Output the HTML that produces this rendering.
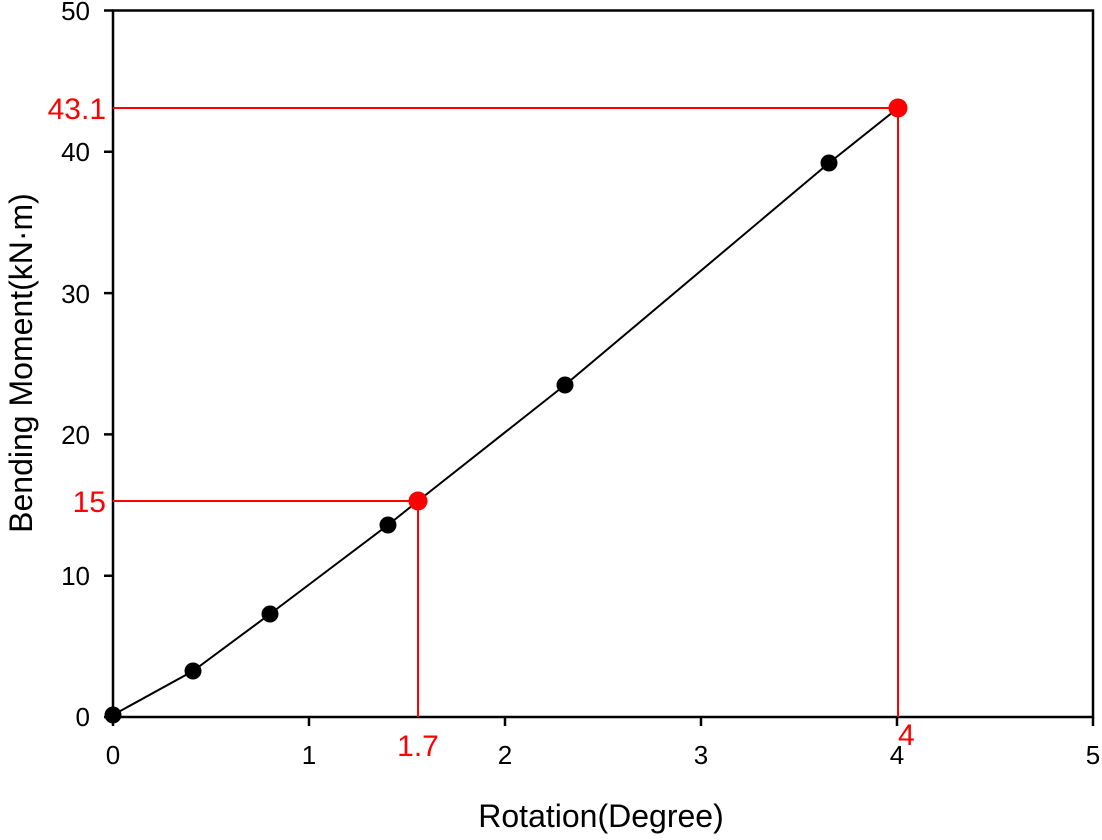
<!DOCTYPE html>
<html><head><style>body{margin:0;background:#fff}</style></head><body>
<svg width="1102" height="835" xmlns="http://www.w3.org/2000/svg" font-family="Liberation Sans, sans-serif">
<rect width="1102" height="835" fill="#fff"/>
<g stroke="#000" stroke-width="2.5" fill="none">
<rect x="113" y="10.5" width="980" height="706.5"/>
<path d="M113 717v9M309 717v9M505 717v9M701 717v9M897 717v9M1093 717v9"/>
<path d="M113 717h-9M113 575.7h-9M113 434.4h-9M113 293.1h-9M113 151.8h-9M113 10.5h-9"/>
</g>
<g stroke="#f00" stroke-width="2" fill="none">
<path d="M113 108H898V717"/>
<path d="M113 501H418V717"/>
</g>
<polyline fill="none" stroke="#000" stroke-width="2" points="113,715 193,671 270,614 388,525 418,501 565,385 829,163 898,108"/>
<g fill="#000">
<circle cx="113" cy="715" r="8.5"/><circle cx="193" cy="671" r="8.5"/><circle cx="270" cy="614" r="8.5"/>
<circle cx="388" cy="525" r="8.5"/><circle cx="565" cy="385" r="8.5"/><circle cx="829" cy="163" r="8.5"/>
</g>
<g fill="#f00"><circle cx="418" cy="501" r="9.5"/><circle cx="898" cy="108" r="9.5"/></g>
<g font-size="26" text-anchor="end" fill="#000">
<text x="90" y="726">0</text><text x="90" y="585">10</text><text x="90" y="444">20</text>
<text x="90" y="303">30</text><text x="90" y="161">40</text><text x="90" y="20">50</text>
</g>
<g font-size="26" text-anchor="middle" fill="#000">
<text x="113" y="764">0</text><text x="309" y="764">1</text><text x="505" y="764">2</text>
<text x="701" y="764">3</text><text x="897" y="764">4</text><text x="1093" y="764">5</text>
</g>
<g font-size="30" fill="#f00">
<text x="106" y="119" text-anchor="end">43.1</text>
<text x="106" y="512" text-anchor="end">15</text>
<text x="418" y="756" text-anchor="middle">1.7</text>
<text x="898" y="745">4</text>
</g>
<text x="601" y="827" font-size="32" text-anchor="middle">Rotation(Degree)</text>
<text transform="translate(32,363) rotate(-90)" font-size="32" text-anchor="middle">Bending Moment(kN·m)</text>
</svg>
</body></html>
